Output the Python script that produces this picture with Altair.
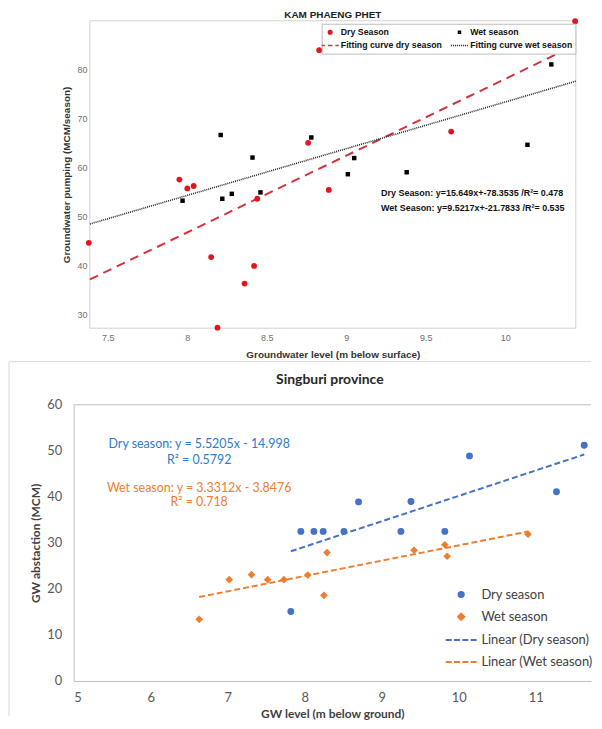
import altair as alt
import pandas as pd
import numpy as np

# ---------------- Top panel: KAM PHAENG PHET ----------------
kpp_title = "KAM PHAENG PHET"
kpp_dry_x = [7.38, 7.95, 8.00, 8.04, 8.15, 8.19, 8.36, 8.42, 8.44, 8.76, 8.83, 8.89, 9.66, 10.44]
kpp_dry_y = [44.7, 57.6, 55.8, 56.3, 41.8, 27.4, 36.4, 40.0, 53.7, 65.1, 84.0, 55.5, 67.4, 89.9]
kpp_wet_x = [7.97, 8.21, 8.22, 8.28, 8.41, 8.46, 8.78, 9.01, 9.05, 9.38, 10.14, 10.29]
kpp_wet_y = [53.3, 66.7, 53.7, 54.7, 62.1, 55.0, 66.2, 58.7, 62.0, 59.1, 64.7, 81.1]
kpp_fit_names = ["Fitting curve dry season", "Fitting curve wet season"]
kpp_fit_slope = [15.649, 9.5217]
kpp_fit_intercept = [-78.3535, -21.7833]
kpp_xdomain = [7.387, 10.444]
kpp_ydomain = [27.3, 90.0]
kpp_series = ["Dry Season", "Wet season", "Fitting curve dry season", "Fitting curve wet season"]
kpp_eq_text = ["Dry Season: y=15.649x+-78.3535 /R\u00b2= 0.478",
               "Wet Season: y=9.5217x+-21.7833 /R\u00b2= 0.535"]
kpp_eq_x = [9.219, 9.219]
kpp_eq_y = [54.86, 51.83]
kpp_xticks = [7.5, 8, 8.5, 9, 9.5, 10]
kpp_yticks = [30, 40, 50, 60, 70, 80]

# ---------------- Bottom panel: Singburi ----------------
sb_title = "Singburi province"
sb_dry_x = [7.82, 7.95, 8.12, 8.24, 8.51, 8.70, 9.25, 9.38, 9.82, 10.14, 11.27, 11.63]
sb_dry_y = [15.1, 32.5, 32.5, 32.5, 32.5, 38.9, 32.5, 39.0, 32.5, 48.9, 41.1, 51.2]
sb_wet_x = [6.63, 7.02, 7.31, 7.52, 7.73, 8.04, 8.25, 8.29, 9.42, 9.82, 9.85, 10.90]
sb_wet_y = [13.4, 22.0, 23.1, 22.0, 22.0, 23.0, 18.6, 27.9, 28.4, 29.6, 27.1, 31.9]
sb_fit_names = ["Linear (Dry season)", "Linear (Wet season)"]
sb_fit_slope = [5.5205, 3.3312]
sb_fit_intercept = [-14.998, -3.8476]
sb_fit_xmin = [7.82, 6.63]
sb_fit_xmax = [11.63, 10.90]
sb_series = ["Dry season", "Wet season", "Linear (Dry season)", "Linear (Wet season)"]
sb_eq_text = ["Dry season: y = 5.5205x - 14.998", "R\u00b2 = 0.5792",
              "Wet season: y = 3.3312x - 3.8476", "R\u00b2 = 0.718"]
sb_eq_group = ["dry", "dry", "wet", "wet"]
sb_eq_x = [6.63, 6.63, 6.63, 6.63]
sb_eq_y = [51.57, 47.98, 41.99, 38.82]
sb_xticks = [5, 6, 7, 8, 9, 10, 11]
sb_yticks = [0, 10, 20, 30, 40, 50, 60]

# ---------------- styles ----------------
RED = "#E4141E"
RED_LINE = "#D3333D"
BLACK = "#000000"
DOT_LINE = "#222222"
BLUE = "#4472C4"
ORANGE = "#ED7D31"
BLUE_TXT = "#2E7BCF"


def circ(r):
    return f"M{r},0A{r},{r} 0 1,1 {-r},0A{r},{r} 0 1,1 {r},0Z"


def sq(h):
    return f"M{-h},{-h}H{h}V{h}H{-h}Z"


def diam(h):
    return f"M0,{-h}L{h},0L0,{h}L{-h},0Z"


def segs(pairs):
    return "".join(f"M{a:.3f},0H{b:.3f}" for a, b in pairs)


dot_pairs = [(a, a + 0.2) for a in np.arange(-1.72, 1.6, 0.4)]
kpp_paths = [circ(0.36) + circ(0.12), sq(0.2),
             segs([(-1.72, -1.05), (-0.45, 0.45), (1.05, 1.72)]),
             segs(dot_pairs)]
dash4 = segs([(-1.55, -0.95), (-0.72, -0.12), (0.12, 0.72), (0.95, 1.55)])
sb_paths = [circ(0.26) + circ(0.09), diam(0.31) + diam(0.16) + diam(0.04), dash4, dash4]

# ================= TOP CHART =================
OFF = 16.3          # top plot starts this far right of the shared panel origin
PW, TH = 488.4, 309
TW = OFF + PW
kx = alt.Scale(domain=kpp_xdomain, nice=False, zero=False, range=[OFF, TW])
ky = alt.Scale(domain=kpp_ydomain, nice=False, zero=False)
FONT_T = "Liberation Sans"

kx_axis = alt.Axis(values=kpp_xticks, format=".1~f", grid=False, ticks=False, domain=False,
                   labelFont=FONT_T, labelFontSize=9, labelColor="#6E6E6E", labelPadding=5,
                   title="Groundwater level (m below surface)", titleFont=FONT_T,
                   titleFontSize=10, titleFontWeight="bold", titleColor="#333333",
                   titlePadding=7, titleX=OFF + PW / 2)
ky_axis = alt.Axis(values=kpp_yticks, format="d", grid=False, ticks=False, domain=False,
                   offset=-OFF,
                   labelFont=FONT_T, labelFontSize=9, labelColor="#6E6E6E", labelPadding=3,
                   title="Groundwater pumping (MCM/season)", titleFont=FONT_T,
                   titleFontSize=10, titleFontWeight="bold", titleColor="#333333",
                   titlePadding=5)

kdry = pd.DataFrame({"x": kpp_dry_x, "y": kpp_dry_y})
kwet = pd.DataFrame({"x": kpp_wet_x, "y": kpp_wet_y})
kfit = pd.DataFrame({
    "series": [n for n in kpp_fit_names for _ in kpp_xdomain],
    "slope": [s for s in kpp_fit_slope for _ in kpp_xdomain],
    "intercept": [c for c in kpp_fit_intercept for _ in kpp_xdomain],
    "x": kpp_xdomain * 2,
})
keq = pd.DataFrame({"t": kpp_eq_text, "x": kpp_eq_x, "y": kpp_eq_y})
kleg = pd.DataFrame({"series": kpp_series, "x": [None] * 4, "y": [None] * 4})
ktitle = pd.DataFrame({"t": [kpp_title]})

k_box = alt.Chart(ktitle).mark_rect(filled=False, stroke="#D2D2D2", strokeWidth=1).encode(
    x=alt.datum(kpp_xdomain[0], scale=kx), x2=alt.datum(kpp_xdomain[1]),
    y=alt.datum(kpp_ydomain[0], scale=ky), y2=alt.datum(kpp_ydomain[1]))
k_title = alt.Chart(ktitle).mark_text(font=FONT_T, fontSize=10, fontWeight="bold",
                                      color="#222222", baseline="middle").encode(
    x=alt.value(OFF + PW / 2), y=alt.value(-6), text="t:N")

k_dry_line = alt.Chart(kfit).transform_filter(
    alt.datum.series == kpp_fit_names[0]
).transform_calculate(yy="datum.slope * datum.x + datum.intercept").mark_line(
    color=RED_LINE, strokeWidth=2, strokeDash=[9, 6]
).encode(x=alt.X("x:Q", scale=kx, axis=kx_axis), y=alt.Y("yy:Q", scale=ky, axis=ky_axis))

k_wet_line = alt.Chart(kfit).transform_filter(
    alt.datum.series == kpp_fit_names[1]
).transform_calculate(yy="datum.slope * datum.x + datum.intercept").mark_line(
    color=DOT_LINE, strokeWidth=1.6, strokeDash=[1, 1]
).encode(x=alt.X("x:Q", scale=kx), y=alt.Y("yy:Q", scale=ky))

k_dry_pts = alt.Chart(kdry).mark_point(shape="circle", filled=True, color=RED, size=34, opacity=1).encode(
    x=alt.X("x:Q", scale=kx), y=alt.Y("y:Q", scale=ky))
k_wet_pts = alt.Chart(kwet).mark_point(shape="square", filled=True, color=BLACK, size=20, opacity=1).encode(
    x=alt.X("x:Q", scale=kx), y=alt.Y("y:Q", scale=ky))

k_eq = alt.Chart(keq).mark_text(align="left", baseline="middle", font=FONT_T, fontSize=9,
                                fontWeight="bold", color="#111111").encode(
    x=alt.X("x:Q", scale=kx), y=alt.Y("y:Q", scale=ky), text="t:N")

k_leg_def = dict(title=None, orient="none", legendX=OFF + 233, legendY=3, columns=2,
                 direction="horizontal",
                 symbolSize=100, symbolStrokeWidth=1.5, labelFont=FONT_T, labelFontSize=8.8,
                 labelFontWeight="bold", labelColor="#111111", labelOffset=4.7,
                 columnPadding=5, rowPadding=2.3, padding=2.5, strokeColor="#BBBBBB",
                 fillColor="white", cornerRadius=0)
k_leg = alt.Chart(kleg).mark_point(opacity=1, filled=False).encode(
    x=alt.X("x:Q", scale=kx), y=alt.Y("y:Q", scale=ky),
    color=alt.Color("series:N", scale=alt.Scale(domain=kpp_series, range=[RED, BLACK, RED_LINE, DOT_LINE]),
                    legend=alt.Legend(**k_leg_def)),
    shape=alt.Shape("series:N", scale=alt.Scale(domain=kpp_series, range=kpp_paths),
                    legend=alt.Legend(**k_leg_def)),
)

top = alt.layer(k_box, k_title, k_dry_line, k_wet_line, k_wet_pts, k_dry_pts, k_eq, k_leg).properties(
    width=TW, height=TH,
    view=alt.ViewBackground(stroke=None),
)

# ================= BOTTOM CHART =================
BW, BH = 520, 277.6
FONT_B = "Lato"
sx = alt.Scale(domain=[5, 5 + BW / 77.4], nice=False, zero=False)
sy = alt.Scale(domain=[0, 60], nice=False)

sx_axis = alt.Axis(values=sb_xticks, format="d", grid=False, ticks=False, domainColor="#BFBFBF",
                   labelFont=FONT_B, labelFontSize=13, labelColor="#595959", labelPadding=11,
                   title="GW level (m below ground)", titleFont=FONT_B, titleFontSize=12,
                   titleFontWeight="bold", titleColor="#404040", titlePadding=4)
sy_axis = alt.Axis(values=sb_yticks, format="d", grid=False, ticks=False, domainColor="#BFBFBF",
                   labelFont=FONT_B, labelFontSize=13, labelColor="#595959", labelPadding=12,
                   title="GW abstaction (MCM)", titleFont=FONT_B, titleFontSize=12,
                   titleFontWeight="bold", titleColor="#404040", titlePadding=4)

sdry = pd.DataFrame({"x": sb_dry_x, "y": sb_dry_y})
swet = pd.DataFrame({"x": sb_wet_x, "y": sb_wet_y})
sfit = pd.DataFrame({
    "series": [n for n in sb_fit_names for _ in range(2)],
    "slope": [s for s in sb_fit_slope for _ in range(2)],
    "intercept": [c for c in sb_fit_intercept for _ in range(2)],
    "x": [sb_fit_xmin[0], sb_fit_xmax[0], sb_fit_xmin[1], sb_fit_xmax[1]],
})
seq = pd.DataFrame({"t": sb_eq_text, "g": sb_eq_group, "x": sb_eq_x, "y": sb_eq_y})
sleg = pd.DataFrame({"series": sb_series, "x": [None] * 4, "y": [None] * 4})
stitle = pd.DataFrame({"t": [sb_title]})

frame_left = alt.Chart(stitle).mark_rule(color="#D9D9D9", strokeWidth=1).encode(
    x=alt.value(-65), y=alt.value(-43.4), y2=alt.value(313))
frame_top = alt.Chart(stitle).mark_rule(color="#D9D9D9", strokeWidth=1).encode(
    x=alt.value(-65), x2=alt.value(BW), y=alt.value(-43.4))
top_border = alt.Chart(stitle).mark_rule(color="#BFBFBF", strokeWidth=1).encode(y=alt.datum(60, scale=sy))
s_title = alt.Chart(stitle).mark_text(font=FONT_B, fontSize=14, fontWeight="bold",
                                      color="#262626", baseline="middle").encode(
    x=alt.value(257.5), y=alt.value(-24.5), text="t:N")

s_line_dry = alt.Chart(sfit).transform_filter(alt.datum.series == sb_fit_names[0]).transform_calculate(
    yy="datum.slope * datum.x + datum.intercept").mark_line(
    color=BLUE, strokeWidth=2, strokeDash=[6, 3]).encode(
    x=alt.X("x:Q", scale=sx, axis=sx_axis), y=alt.Y("yy:Q", scale=sy, axis=sy_axis))
s_line_wet = alt.Chart(sfit).transform_filter(alt.datum.series == sb_fit_names[1]).transform_calculate(
    yy="datum.slope * datum.x + datum.intercept").mark_line(
    color=ORANGE, strokeWidth=2, strokeDash=[6, 3]).encode(
    x=alt.X("x:Q", scale=sx), y=alt.Y("yy:Q", scale=sy))

s_dry_pts = alt.Chart(sdry).mark_point(shape="circle", filled=True, color=BLUE, size=48, opacity=1).encode(
    x=alt.X("x:Q", scale=sx), y=alt.Y("y:Q", scale=sy))
s_wet_pts = alt.Chart(swet).mark_point(shape="diamond", filled=True, color=ORANGE, size=60, opacity=1).encode(
    x=alt.X("x:Q", scale=sx), y=alt.Y("y:Q", scale=sy))

s_eq = alt.Chart(seq).mark_text(align="center", baseline="middle", font=FONT_B, fontSize=12.5).encode(
    x=alt.X("x:Q", scale=sx), y=alt.Y("y:Q", scale=sy), text="t:N",
    fill=alt.Fill("g:N", scale=alt.Scale(domain=["dry", "wet"], range=[BLUE_TXT, ORANGE]), legend=None))

s_leg_def = dict(title=None, orient="none", legendX=378.5, legendY=179.7, direction="vertical",
                 symbolSize=400, symbolStrokeWidth=2, labelFont=FONT_B, labelFontSize=13,
                 labelColor="#404040", labelOffset=9.3, rowPadding=4.3, padding=0)
s_leg = alt.Chart(sleg).mark_point(opacity=1, filled=False).encode(
    x=alt.X("x:Q", scale=sx), y=alt.Y("y:Q", scale=sy),
    color=alt.Color("series:N", scale=alt.Scale(domain=sb_series, range=[BLUE, ORANGE, BLUE, ORANGE]),
                    legend=alt.Legend(**s_leg_def)),
    shape=alt.Shape("series:N", scale=alt.Scale(domain=sb_series, range=sb_paths),
                    legend=alt.Legend(**s_leg_def)),
)

bottom = alt.layer(frame_left, frame_top, top_border, s_title, s_line_dry, s_line_wet,
                   s_dry_pts, s_wet_pts, s_eq, s_leg).properties(
    width=BW, height=BH,
    view=alt.ViewBackground(stroke=None),
)

chart = alt.ConcatChart(concat=[top, bottom], columns=1, align="none", spacing=2).resolve_scale(
    color="independent", shape="independent", fill="independent",
    x="independent", y="independent").properties(padding=0).configure_view(stroke=None)

chart.save("out.html", embed_options={"renderer": "svg", "actions": False})
